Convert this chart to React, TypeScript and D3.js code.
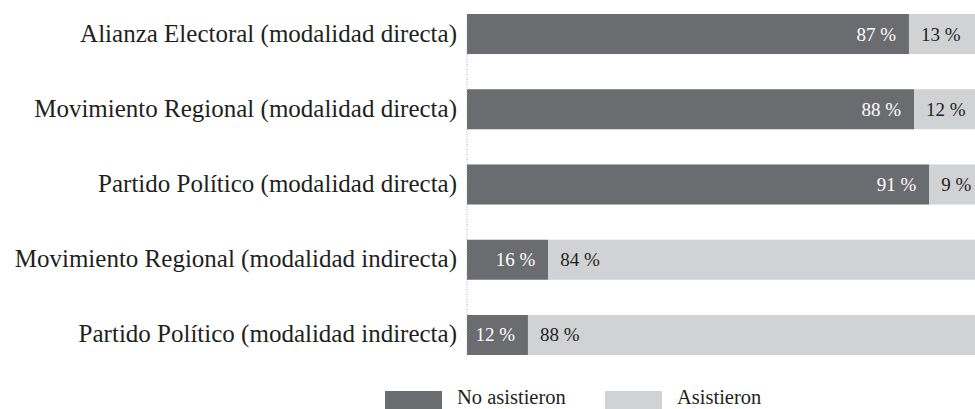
import React from "react";
import * as d3 from "d3";

const categories = [
  "Alianza Electoral (modalidad directa)",
  "Movimiento Regional (modalidad directa)",
  "Partido Político (modalidad directa)",
  "Movimiento Regional (modalidad indirecta)",
  "Partido Político (modalidad indirecta)",
];
const noAsistieron = [87, 88, 91, 16, 12];
const asistieron = [13, 12, 9, 84, 88];
const seriesNames = ["No asistieron", "Asistieron"];
const colors = ["#6b6c70", "#d1d2d4"];

const W = 975;
const H = 409;
const FONT = "'Liberation Serif', 'DejaVu Serif', serif";

export default function App() {
  const x = d3.scaleLinear().domain([0, 100]).range([467, 975]);
  const y = d3
    .scaleBand<string>()
    .domain(categories)
    .range([14, 355])
    .paddingInner(0.468)
    .paddingOuter(0);
  const bw = y.bandwidth();

  return (
    <svg
      width={W}
      height={H}
      style={{ position: "absolute", left: 0, top: 0, display: "block", background: "#fff" }}
      fontFamily={FONT}
    >
      {categories.map((c, i) => {
        const y0 = y(c)!;
        const a = noAsistieron[i];
        const b = asistieron[i];
        const mid = y0 + bw / 2;
        return (
          <g key={c}>
            <rect x={x(0)} y={y0} width={x(a) - x(0)} height={bw} fill={colors[0]} />
            <rect x={x(a)} y={y0} width={x(100) - x(a)} height={bw} fill={colors[1]} />
            <text x={x(0) - 10} y={mid + 7.5} textAnchor="end" fontSize={25} fill="#231f20">
              {c}
            </text>
            <text x={x(a) - 13} y={mid + 6.5} textAnchor="end" fontSize={19} fill="#ffffff">
              {a} %
            </text>
            <text x={x(a) + 12} y={mid + 6.5} textAnchor="start" fontSize={19} fill="#231f20">
              {b} %
            </text>
          </g>
        );
      })}
      <line
        x1={x(0)}
        x2={x(0)}
        y1={14}
        y2={357}
        stroke="#9a9a9a"
        strokeWidth={0.8}
        strokeDasharray="1,1.5"
      />
      {seriesNames.map((s, i) => {
        const lx = [385, 605][i];
        return (
          <g key={s}>
            <rect x={lx} y={391} width={57} height={18} fill={colors[i]} />
            <text x={lx + 72} y={404} fontSize={20.5} fill="#231f20">
              {s}
            </text>
          </g>
        );
      })}
    </svg>
  );
}
